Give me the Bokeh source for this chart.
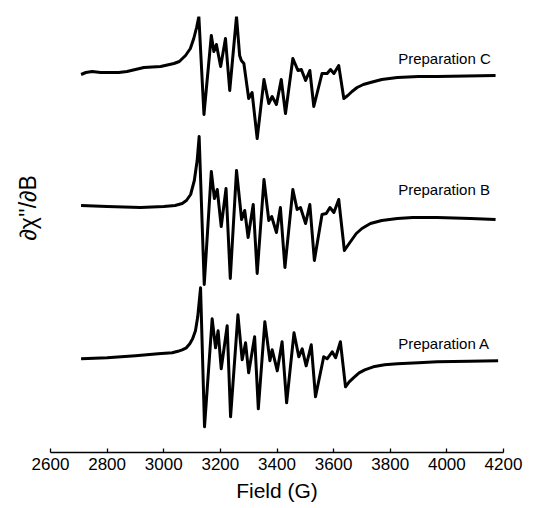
from bokeh.plotting import figure
from bokeh.models import Range1d, Label, Title
from bokeh.embed import file_html
from bokeh.resources import INLINE

# Field (G) and derivative signal (arbitrary units) for each preparation
field_a = [2708, 2800, 2900, 2980, 3030, 3050, 3065, 3080, 3092, 3102, 3112, 3120, 3130,
           3144, 3171, 3183, 3192, 3203, 3224, 3236, 3262, 3277, 3289, 3300, 3321, 3334,
           3357, 3375, 3383, 3401, 3418, 3434, 3460, 3477, 3489, 3503, 3521, 3536, 3565,
           3577, 3595, 3607, 3624, 3642, 3655, 3670, 3690, 3710, 3740, 3780, 3825, 3900,
           3966, 4080, 4181]
sig_a = [0.00, 0.01, 0.03, 0.05, 0.06, 0.075, 0.09, 0.11, 0.15, 0.20, 0.28, 0.42, 0.71,
         -0.68, 0.40, 0.11, 0.28, -0.10, 0.33, -0.58, 0.44, -0.01, 0.16, -0.14, 0.22, -0.50,
         0.37, -0.02, 0.09, -0.12, 0.17, -0.44, 0.26, 0.02, 0.10, -0.07, 0.14, -0.38, 0.02,
         0.00, 0.07, 0.01, 0.17, -0.28, -0.23, -0.19, -0.14, -0.11, -0.08, -0.06, -0.05, -0.04,
         -0.03, -0.025, -0.02]

field_b = [2708, 2800, 2918, 3000, 3040, 3065, 3080, 3095, 3108, 3118, 3125, 3143, 3168,
           3179, 3189, 3203, 3220, 3235, 3257, 3275, 3286, 3298, 3316, 3330, 3354, 3371,
           3381, 3398, 3412, 3428, 3456, 3471, 3483, 3501, 3516, 3532, 3559, 3574, 3587,
           3601, 3618, 3638, 3650, 3665, 3680, 3700, 3730, 3770, 3825, 3880, 3966, 4084, 4172]
sig_b = [0.00, -0.01, -0.02, -0.01, 0.00, 0.02, 0.05, 0.11, 0.25, 0.45, 0.69, -0.79, 0.34,
         0.07, 0.16, -0.21, 0.17, -0.73, 0.35, -0.14, -0.05, -0.32, 0.01, -0.68, 0.26, -0.15,
         -0.11, -0.27, -0.02, -0.62, 0.16, -0.04, -0.02, -0.18, 0.01, -0.55, -0.09, -0.08, -0.02,
         -0.07, 0.06, -0.45, -0.40, -0.34, -0.28, -0.23, -0.18, -0.15, -0.13, -0.12, -0.12,
         -0.13, -0.14]

field_c = [2708, 2725, 2747, 2777, 2841, 2870, 2900, 2930, 2989, 3036, 3055, 3077, 3094,
           3106, 3116, 3124, 3142, 3168, 3177, 3186, 3201, 3218, 3233, 3257, 3268, 3274,
           3283, 3300, 3312, 3330, 3354, 3371, 3383, 3398, 3415, 3430, 3456, 3474, 3486,
           3501, 3516, 3530, 3559, 3577, 3589, 3601, 3618, 3636, 3650, 3665, 3683, 3705,
           3730, 3770, 3825, 3900, 3966, 4172]
sig_c = [0.00, 0.02, 0.03, 0.02, 0.02, 0.03, 0.05, 0.07, 0.08, 0.11, 0.13, 0.19, 0.26,
         0.36, 0.47, 0.58, -0.40, 0.39, 0.23, 0.30, 0.08, 0.36, -0.16, 0.58, 0.19, 0.14,
         0.11, -0.24, -0.18, -0.64, -0.05, -0.29, -0.22, -0.30, -0.05, -0.39, 0.16, 0.04,
         0.05, -0.06, 0.04, -0.32, 0.01, 0.01, 0.05, 0.01, 0.09, -0.24, -0.21, -0.17, -0.13,
         -0.10, -0.08, -0.05, -0.03, -0.02, -0.02, -0.01]

names = ["Preparation A", "Preparation B", "Preparation C"]
offsets = [0.0, 1.533, 2.843]
x_ticks = [2600, 2800, 3000, 3200, 3400, 3600, 3800, 4000, 4200]
y_label = "\u2202\u03c7''/\u2202B"

FONT = "Liberation Sans"

p = figure(width=547, height=508, output_backend="svg", toolbar_location=None,
           x_range=Range1d(2600, 4200), y_range=Range1d(-0.937, 3.423),
           min_border_left=50, min_border_right=44, min_border_top=16, min_border_bottom=56)
p.outline_line_color = None
p.grid.visible = False

series = [(field_a, sig_a), (field_b, sig_b), (field_c, sig_c)]
for (fx, sy), off, name in zip(series, offsets, names):
    ys = [v + off for v in sy]
    p.line(fx, ys, line_color="black", line_width=3, line_join="round")
    p.add_layout(Label(x=3828, y=off + 0.156, text=name,
                       text_font=FONT, text_font_size="15px", text_baseline="middle",
                       text_align="left", text_color="black"))

xa = p.xaxis[0]
xa.ticker = x_ticks
xa.axis_line_width = 1.3
xa.axis_line_color = "black"
xa.major_tick_line_color = "black"
xa.major_tick_line_width = 1.3
xa.major_tick_in = 4
xa.major_tick_out = 0
xa.minor_tick_line_color = None
xa.major_label_text_font = FONT
xa.major_label_text_font_size = "17px"
xa.major_label_text_color = "black"
xa.major_label_standoff = 5
xa.axis_label = "Field (G)"
xa.axis_label_text_font = FONT
xa.axis_label_text_font_size = "21px"
xa.axis_label_text_font_style = "normal"
xa.axis_label_text_color = "black"
xa.axis_label_standoff = 6

p.yaxis.visible = False

p.add_layout(Title(text=y_label, align="left", offset=212, standoff=20,
                   text_font=FONT, text_font_size="23px", text_font_style="normal",
                   text_color="black"), "left")

open("out.html", "w").write(file_html(p, INLINE))
